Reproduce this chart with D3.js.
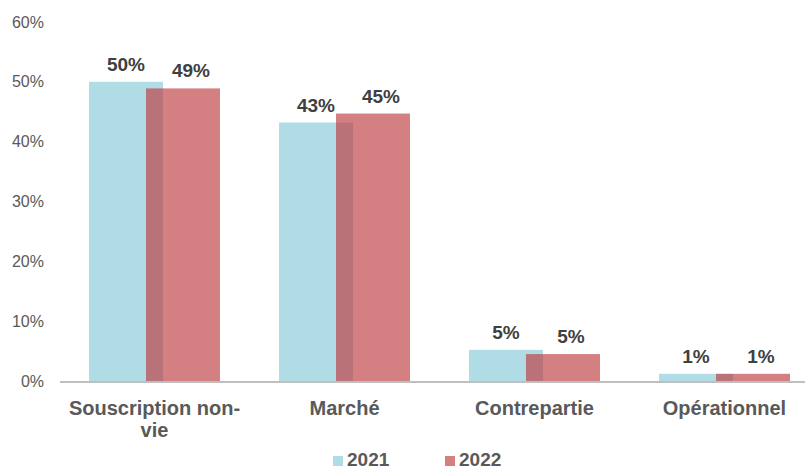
<!DOCTYPE html>
<html><head><meta charset="utf-8">
<script src="https://cdn.jsdelivr.net/npm/d3@7"></script>
<style>body{margin:0;background:#fff}svg{display:block;font-family:"Liberation Sans",Arial,sans-serif}</style>
</head><body><svg id="c" width="805" height="470"></svg>
<script>
const categories = ["Souscription non-vie", "Marché", "Contrepartie", "Opérationnel"];
const catLines = [["Souscription non-", "vie"], ["Marché"], ["Contrepartie"], ["Opérationnel"]];
const series = ["2021", "2022"];
const values2021 = [50, 43.2, 5.2, 1.2];
const values2022 = [48.9, 44.7, 4.5, 1.2];
const labels2021 = ["50%", "43%", "5%", "1%"];
const labels2022 = ["49%", "45%", "5%", "1%"];
const yTicks = [0, 10, 20, 30, 40, 50, 60];

const svg = d3.select("#c");
const y = d3.scaleLinear().domain([0, 60]).range([381, 22]);
const x0 = d3.scaleBand().domain(categories).range([59.5, 819.5]).padding(0);
const barW = 74, off = 57;
const colors = {"2021": "#B0DCE5", "2022": "rgba(190,61,63,0.66)"};
const legendColors = {"2021": "#B0DCE5", "2022": "#D47F80"};

// y axis labels
const yAxis = d3.axisLeft(y).tickValues(yTicks).tickFormat(d => d + "%").tickSize(0).tickPadding(0);
const ga = svg.append("g").attr("transform", "translate(44,0)").call(yAxis);
ga.select(".domain").remove();
ga.selectAll("text").attr("fill", "#595959").style("font-size", "16px").style("font-family", "Liberation Sans, Arial, sans-serif");

const groupStart = c => x0(c) + x0.bandwidth() / 2 - (barW + off) / 2;

// bars
svg.selectAll(".b21").data(categories).enter().append("rect")
  .attr("x", c => groupStart(c)).attr("width", barW)
  .attr("y", (c, i) => y(values2021[i])).attr("height", (c, i) => y(0) - y(values2021[i]))
  .attr("fill", colors["2021"]);
svg.selectAll(".b22").data(categories).enter().append("rect")
  .attr("x", c => groupStart(c) + off).attr("width", barW)
  .attr("y", (c, i) => y(values2022[i])).attr("height", (c, i) => y(0) - y(values2022[i]))
  .attr("fill", colors["2022"]);

// axis line
svg.append("line").attr("x1", 60).attr("x2", 805).attr("y1", y(0) + 1).attr("y2", y(0) + 1)
  .attr("stroke", "#BFBFBF").attr("stroke-width", 2);

// value labels
svg.selectAll(".l21").data(categories).enter().append("text")
  .attr("x", c => groupStart(c) + barW / 2).attr("y", (c, i) => y(values2021[i]) - 11)
  .attr("text-anchor", "middle").attr("fill", "#404040").style("font-size", "19px").style("font-weight", "bold")
  .text((c, i) => labels2021[i]);
svg.selectAll(".l22").data(categories).enter().append("text")
  .attr("x", c => groupStart(c) + off + barW / 2 + 8).attr("y", (c, i) => y(values2022[i]) - 11)
  .attr("text-anchor", "middle").attr("fill", "#404040").style("font-size", "19px").style("font-weight", "bold")
  .text((c, i) => labels2022[i]);

// category labels
categories.forEach((c, i) => {
  const t = svg.append("text").attr("text-anchor", "middle").attr("fill", "#595959")
    .style("font-size", "20px").style("font-weight", "bold");
  catLines[i].forEach((ln, j) => {
    t.append("tspan").attr("x", x0(c) + x0.bandwidth() / 2).attr("y", 415 + j * 22).text(ln);
  });
});

// legend
const legX = [333, 445];
series.forEach((s, i) => {
  svg.append("rect").attr("x", legX[i]).attr("y", 456).attr("width", 10).attr("height", 10).attr("fill", legendColors[s]);
  svg.append("text").attr("x", legX[i] + 14).attr("y", 466).attr("fill", "#595959")
    .style("font-size", "19px").style("font-weight", "bold").text(s);
});
</script></body></html>
